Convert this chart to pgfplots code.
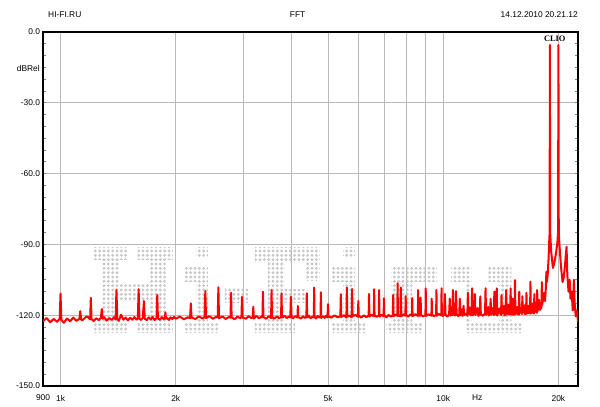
\documentclass[border=0pt]{standalone}
\usepackage{fontspec}
\setmainfont{Liberation Sans}
\newfontfamily\cliofont{Liberation Serif}
\usepackage{pgfplots}
\pgfplotsset{compat=1.18}
\usetikzlibrary{patterns.meta}
% dot matrix used for the faint watermark behind the trace
\tikzdeclarepattern{
  name=wmdots,
  type=uncolored,
  bounding box={(-1.625pt,-1.625pt) and (1.625pt,1.625pt)},
  tile size={(3.25pt,3.25pt)},
  code={\fill (0pt,0pt) circle (1.2pt);}
}
% one watermark block: f1, f2, dB top, dB bottom
\newcommand{\wm}[4]{\addplot[draw=none, pattern=wmdots, pattern color=gray!42, forget plot]
  coordinates {(#1,#3) (#2,#3) (#2,#4) (#1,#4)} -- cycle;}
\begin{document}
\fontsize{6.3}{7.5}\selectfont
\begin{tikzpicture}
\useasboundingbox (-32.25pt,-15.75pt) rectangle (417.75pt,289.5pt);
\begin{axis}[
    at={(0,0)}, anchor=south west,
    scale only axis, width=401.25pt, height=265.5pt,
    xmode=log, xmin=900, xmax=22500,
    ymin=-150, ymax=0,
    clip mode=individual,
    axis line style={line width=1.4pt},
    xtick={1000,2000,3000,4000,5000,6000,7000,8000,9000,10000,20000},
    xticklabels={1k,2k,{},{},5k,{},{},{},{},10k,20k},
    extra x ticks={900,12270},
    extra x tick labels={900,Hz},
    extra x tick style={grid=none},
    xmajorgrids,
    xtick style={draw=none},
    xticklabel style={yshift=-4.5pt},
    ytick={-150,-120,-90,-60,-30,0},
    yticklabels={-150.0,-120.0,-90.0,-60.0,-30.0,0.0},
    minor y tick num=5,
    ymajorgrids,
    ytick style={gray, line width=0.5pt},
    tick align=inside,
    major tick length=2pt, minor tick length=2pt,
    ytick pos=both,
    grid style={gray!55, line width=0.6pt},
    /pgf/number format/assume math mode=true,
]
% watermark "HiFi.ru"
\wm{1213}{1497}{-91.5}{-96.6}
\wm{1591}{1965}{-91.5}{-96.6}
\wm{1288}{1427}{-96.6}{-122.9}
\wm{1710}{1883}{-96.6}{-122.9}
\wm{1427}{1710}{-106.4}{-114.4}
\wm{1213}{1497}{-122.9}{-127.5}
\wm{1591}{1965}{-122.9}{-127.5}
\wm{2257}{2426}{-91.5}{-95.3}
\wm{2112}{2426}{-100.0}{-105.9}
\wm{2257}{2426}{-105.9}{-122.9}
\wm{2112}{2576}{-122.9}{-127.5}
\wm{2688}{3087}{-108.5}{-114.8}
\wm{3220}{4764}{-91.5}{-97.5}
\wm{3483}{3858}{-97.5}{-122.9}
\wm{4354}{4764}{-97.5}{-105.1}
\wm{3858}{4354}{-109.3}{-114.8}
\wm{3220}{4100}{-122.9}{-127.5}
\wm{5473}{5885}{-91.5}{-95.3}
\wm{5091}{5885}{-100.0}{-105.9}
\wm{5473}{5885}{-105.9}{-122.9}
\wm{5091}{6250}{-122.9}{-127.5}
\wm{7310}{9645}{-100.0}{-105.9}
\wm{7310}{8296}{-105.9}{-122.9}
\wm{7100}{8800}{-122.9}{-127.5}
\wm{10494}{11839}{-100.0}{-105.9}
\wm{11418}{11839}{-105.9}{-122.9}
\wm{13118}{15070}{-100.0}{-105.9}
\wm{14000}{15070}{-105.9}{-122.9}
\wm{11418}{16003}{-122.9}{-127.5}
% FFT trace
\addplot[red, line width=1.5pt, line join=round, mark=none] coordinates {
(900,-122.5) (920,-121.2) (940,-123.0) (960,-121.6) (980,-122.8)
(995,-121.5) (1000,-110.8) (1005,-122.0)
(1020,-123.2) (1040,-121.4) (1060,-122.6) (1080,-121.0) (1100,-122.4)
(1120,-121.5) (1126,-118.3) (1132,-121.8)
(1140,-122.2) (1160,-121.0) (1175,-120.5)
(1195,-121.8) (1200,-112.6) (1205,-121.6)
(1220,-122.5) (1240,-121.3) (1260,-122.1)
(1275,-121.0) (1282,-117.4) (1289,-121.5)
(1300,-120.8) (1320,-122.3) (1340,-121.2) (1360,-122.0) (1380,-120.9)
(1393,-121.8) (1400,-109.3) (1407,-121.5)
(1420,-122.4) (1440,-119.8) (1460,-121.9) (1480,-121.0) (1500,-122.2)
(1520,-121.1) (1540,-121.9) (1560,-120.8) (1580,-121.9)
(1592,-121.6) (1600,-109.0) (1608,-121.3)
(1620,-122.0) (1640,-121.2) (1652,-114.0) (1660,-121.5)
(1680,-122.1) (1700,-120.9) (1720,-121.8) (1740,-120.7) (1760,-122.0)
(1783,-121.2) (1790,-111.4) (1797,-121.4)
(1820,-121.9) (1840,-120.8) (1860,-121.7)
(1874,-121.0) (1880,-118.8) (1886,-121.5)
(1900,-121.2) (1920,-122.0) (1940,-120.9) (1960,-121.6) (1980,-120.7)
(2000,-121.5) (2050,-120.6) (2100,-121.7) (2150,-120.9)
(2180,-121.3) (2190,-115.0) (2200,-121.0)
(2250,-121.6) (2300,-120.5) (2350,-121.4)
(2380,-120.9) (2390,-109.7) (2400,-121.2)
(2450,-120.4) (2500,-121.5) (2550,-120.7)
(2575,-121.0) (2585,-108.2) (2595,-121.3)
(2650,-120.5) (2700,-121.6) (2750,-120.8)
(2780,-121.1) (2790,-110.5) (2800,-120.9)
(2850,-121.7) (2900,-120.6) (2950,-121.3)
(2970,-120.8) (2980,-112.2) (2990,-121.0)
(3050,-121.5) (3100,-120.4) (3150,-121.2)
(3180,-120.9) (3190,-116.4) (3200,-121.4)
(3250,-120.3) (3300,-121.3) (3350,-120.6)
(3370,-121.0) (3380,-110.0) (3390,-120.8)
(3450,-121.5) (3500,-120.4)
(3550,-121.2) (3560,-109.3) (3570,-120.9)
(3620,-121.4) (3680,-120.5) (3720,-121.3)
(3770,-120.8) (3780,-110.7) (3790,-121.0)
(3850,-120.3) (3900,-121.2) (3950,-120.6)
(3985,-121.0) (4000,-112.2) (4015,-120.7)
(4050,-121.3) (4100,-120.4)
(4160,-121.0) (4170,-116.1) (4180,-120.8)
(4250,-121.4) (4300,-120.5) (4350,-121.1)
(4390,-120.7) (4400,-110.7) (4410,-121.0)
(4450,-120.2) (4500,-121.3) (4550,-120.6)
(4590,-121.0) (4600,-108.3) (4610,-120.8)
(4650,-121.4) (4700,-120.3) (4740,-121.0)
(4780,-120.6) (4790,-110.3) (4800,-121.2)
(4850,-120.5) (4900,-121.1) (4950,-120.2)
(4985,-120.9) (5000,-115.3) (5015,-120.6)
(5100,-121.0) (5200,-120.1) (5300,-120.9)
(5385,-120.4) (5400,-111.1) (5415,-120.8)
(5500,-120.0)
(5585,-121.0) (5600,-108.3) (5615,-120.5)
(5700,-120.2)
(5765,-120.9) (5780,-108.9) (5795,-120.4)
(5900,-119.9)
(5985,-120.7) (6000,-114.0) (6015,-120.3)
(6100,-121.0) (6200,-120.1) (6300,-120.8)
(6385,-120.2) (6400,-111.0) (6415,-120.6)
(6500,-119.8)
(6585,-120.5) (6600,-109.0) (6615,-120.0)
(6700,-120.7)
(6785,-120.1) (6800,-109.3) (6815,-120.6)
(6900,-119.8)
(6985,-120.5) (7000,-112.8) (7015,-120.1)
(7100,-120.9) (7200,-119.9) (7300,-120.6)
(7385,-120.0) (7400,-111.4) (7415,-120.4)
(7500,-119.7)
(7585,-120.3) (7600,-106.5) (7615,-119.8)
(7680,-120.4)
(7735,-120.0) (7750,-108.3) (7765,-120.5)
(7850,-119.6)
(7965,-120.2) (7980,-111.9) (7995,-119.9)
(8100,-120.6) (8200,-119.7)
(8285,-120.1) (8300,-112.8) (8315,-120.4)
(8450,-119.6)
(8585,-120.3) (8600,-109.3) (8615,-119.9)
(8715,-120.2) (8730,-112.5) (8745,-119.8)
(8850,-120.5)
(8985,-120.0) (9000,-108.6) (9015,-120.3)
(9150,-119.6)
(9315,-120.2) (9330,-113.0) (9345,-119.7)
(9450,-120.4)
(9580,-119.9) (9600,-109.3) (9620,-120.2)
(9750,-119.5)
(9880,-120.1) (9900,-108.6) (9920,-119.8)
(9980,-120.3)
(10060,-119.6) (10100,-111.0) (10140,-119.9)
(10250,-120.6)
(10360,-119.8) (10400,-113.0) (10440,-120.2)
(10520,-119.4)
(10560,-120.0) (10600,-109.3) (10640,-119.7)
(10760,-120.1) (10800,-109.8) (10840,-119.5)
(10950,-120.4)
(11010,-119.7) (11050,-113.0) (11090,-120.1)
(11180,-117.5) (11220,-120.3)
(11260,-119.6) (11300,-116.0) (11340,-120.0)
(11450,-119.3)
(11560,-120.2) (11600,-110.5) (11640,-119.6)
(11750,-116.8) (11800,-120.1)
(11860,-119.5) (11900,-108.6) (11940,-120.0)
(12060,-119.4) (12100,-111.0) (12140,-119.9)
(12300,-117.0) (12350,-120.3)
(12460,-119.5) (12500,-112.0) (12540,-119.8)
(12700,-120.2)
(12860,-119.3) (12900,-108.6) (12940,-119.9)
(13100,-116.5) (13150,-120.1)
(13260,-119.4) (13300,-113.0) (13340,-119.8)
(13450,-117.0)
(13560,-120.0) (13600,-110.0) (13640,-119.4)
(13760,-119.6) (13800,-108.6) (13840,-120.2)
(14000,-117.2) (14100,-119.3)
(14160,-119.9) (14200,-111.5) (14240,-119.4)
(14400,-116.0) (14450,-120.1)
(14560,-119.2) (14600,-109.3) (14640,-119.8)
(14800,-115.5) (14850,-119.6)
(14960,-119.1) (15000,-108.6) (15040,-119.7)
(15160,-119.4) (15200,-113.0) (15240,-119.9)
(15360,-119.2) (15400,-105.1) (15440,-119.6)
(15600,-116.5) (15650,-119.3)
(15760,-119.8) (15800,-110.0) (15840,-119.1)
(15950,-117.0)
(16060,-119.5) (16100,-112.0) (16140,-119.0)
(16300,-115.8) (16350,-119.6)
(16460,-119.0) (16500,-110.5) (16540,-119.4)
(16700,-116.0) (16750,-119.2)
(16860,-118.8) (16900,-105.8) (16940,-119.3)
(17100,-115.0) (17150,-118.9)
(17260,-119.3) (17300,-111.0) (17340,-118.7)
(17450,-116.0)
(17560,-119.0) (17600,-109.3) (17640,-118.4)
(17800,-113.5) (17900,-117.8) (18000,-116.0)
(18060,-117.0) (18100,-106.0) (18140,-115.5)
(18250,-113.0) (18350,-110.5) (18450,-114.0)
(18550,-108.0) (18600,-101.6) (18650,-106.0)
(18750,-103.0) (18850,-96.0) (18920,-89.0) (18970,-85.0)
(19000,-5.5)
(19030,-85.0) (19150,-93.0) (19350,-100.0) (19500,-98.0) (19700,-94.0)
(19880,-89.0) (19960,-85.0)
(20000,-5.5)
(20040,-85.0) (20120,-90.0) (20300,-99.0) (20500,-106.0) (20650,-104.0)
(20800,-99.0) (21000,-91.0) (21100,-103.0) (21250,-110.0) (21400,-105.0)
(21500,-113.0) (21650,-110.0) (21800,-118.0) (21950,-105.0) (22050,-115.0)
(22200,-120.5) (22350,-118.0) (22500,-123.0)
};
\node[anchor=west] at (axis description cs:0.004,1.048) {HI-FI.RU};
\node at (axis description cs:0.476,1.048) {FFT};
\node[anchor=east, inner xsep=0pt] at (axis description cs:1,1.048) {14.12.2010 20.21.12};
\node[anchor=east, inner xsep=0pt] at (axis description cs:-0.0056,0.898) {dBRel};
\node at (axis description cs:0.9565,0.980) {\cliofont\bfseries CLIO};
\end{axis}
\end{tikzpicture}
\end{document}
